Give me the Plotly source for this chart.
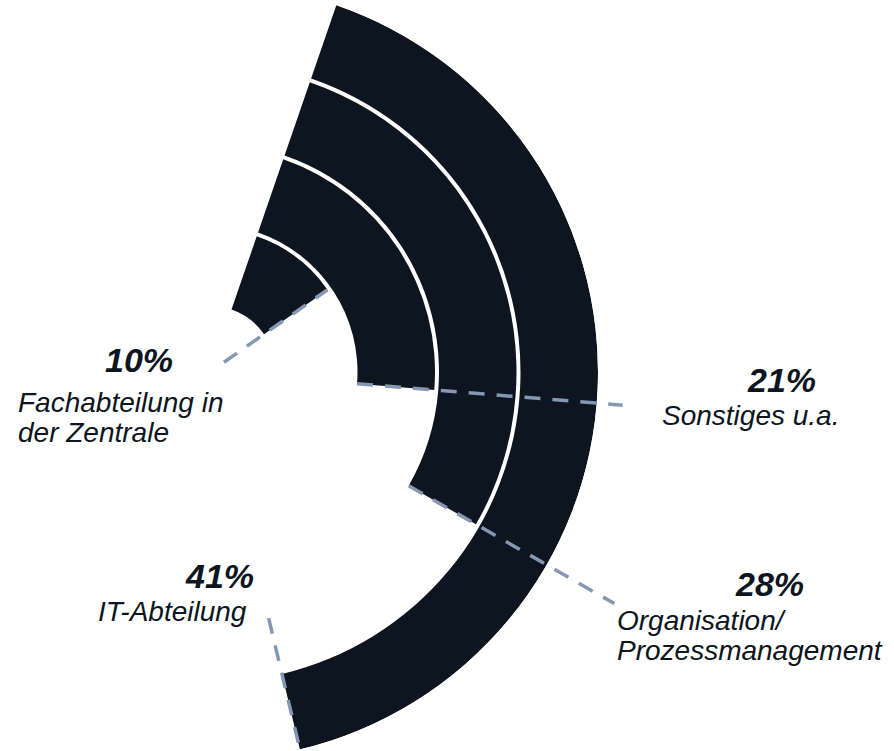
import math
import plotly.graph_objects as go

# Daten
kategorien = ["Fachabteilung in der Zentrale", "Sonstiges u.a.",
              "Organisation/ Prozessmanagement", "IT-Abteilung"]
anteile = [10, 21, 28, 41]  # Prozent
label_zeilen = [["Fachabteilung in", "der Zentrale"],
                ["Sonstiges u.a."],
                ["Organisation/", "Prozessmanagement"],
                ["IT-Abteilung"]]

# Layout-Konstanten (Pixel)
W, H = 894, 751
CX, CY, R = 210, 372, 388
START = 19          # Grad im Uhrzeigersinn ab Norden
LOCH = 66           # innerer Radius
SCHRITT, BREITE = 81.5, 77.5
DUNKEL = "#0c1520"
LINIE = "#8497b3"
FONT = "Liberation Sans, Arial, sans-serif"

# Sektor (Bildschirmwinkel, gegen Uhrzeigersinn ab Osten)
sek = [90 - (START + anteile[-1] * 3.6) - 0.1, 90 - START + 0.5]
y_top = CY - R * math.sin(math.radians(sek[1]))
y_bot = CY - R * math.sin(math.radians(sek[0]))
x_l, x_r = CX - 150, CX + R + 150

fig = go.Figure()

fig.add_trace(go.Barpolar(
    r=[BREITE] * len(anteile),
    base=[LOCH + i * SCHRITT for i in range(len(anteile))],
    theta=[START + a * 1.8 for a in anteile],
    width=[a * 3.6 for a in anteile],
    marker=dict(color=DUNKEL, line=dict(width=0)),
    text=kategorien,
    hovertemplate="%{text}<extra></extra>",
    showlegend=False,
))


def px(r, theta):
    t = math.radians(theta)
    return (CX + r * math.sin(t)) / W, 1 - (CY - r * math.cos(t)) / H


# Hinweislinien (gestrichelt) entlang der Balkenenden
linien_r = [(17, LOCH + BREITE), (LOCH + SCHRITT, 414),
            (LOCH + 2 * SCHRITT, 466), (253, LOCH + 3 * SCHRITT + BREITE)]
shapes = []
for a, (r0, r1) in zip(anteile, linien_r):
    th = START + a * 3.6
    x0, y0 = px(r0, th)
    x1, y1 = px(r1, th)
    shapes.append(dict(type="line", xref="paper", yref="paper",
                       x0=x0, y0=y0, x1=x1, y1=y1, layer="above",
                       line=dict(color=LINIE, width=3.5, dash="16px,12px")))

# Beschriftungen: (links, Mitte) in Pixel
pos_pct = [(103, 360.5), (745, 379.5), (733, 583.5), (183, 575.5)]
pos_txt = [[(16, 402), (16, 432)],
           [(660, 415)],
           [(615, 620), (615, 650)],
           [(96, 611)]]

annotations = []
for a, (x, y), zeilen, pz in zip(anteile, pos_pct, label_zeilen, pos_txt):
    annotations.append(dict(
        text=f"<b><i>{a}%</i></b>", x=x / W, y=1 - y / H,
        xref="paper", yref="paper", xanchor="left", yanchor="middle",
        showarrow=False, font=dict(family=FONT, size=34, color=DUNKEL)))
    for z, (zx, zy) in zip(zeilen, pz):
        annotations.append(dict(
            text=f"<i>{z}</i>", x=zx / W, y=1 - zy / H,
            xref="paper", yref="paper", xanchor="left", yanchor="middle",
            showarrow=False, font=dict(family=FONT, size=28, color=DUNKEL)))

fig.update_layout(
    width=W, height=H,
    margin=dict(l=0, r=0, t=0, b=0),
    paper_bgcolor="white",
    dragmode=False,
    polar=dict(
        domain=dict(x=[x_l / W, x_r / W], y=[1 - y_bot / H, 1 - y_top / H]),
        sector=sek,
        bgcolor="white",
        radialaxis=dict(visible=False, range=[0, R]),
        angularaxis=dict(visible=False, rotation=90, direction="clockwise"),
    ),
    shapes=shapes,
    annotations=annotations,
)

# Seitenrand des Browsers entfernen, damit die Grafik bei (0, 0) beginnt
fig.write_html("out.html", config={"displayModeBar": False},
               post_script="document.body.style.margin = '0';")
